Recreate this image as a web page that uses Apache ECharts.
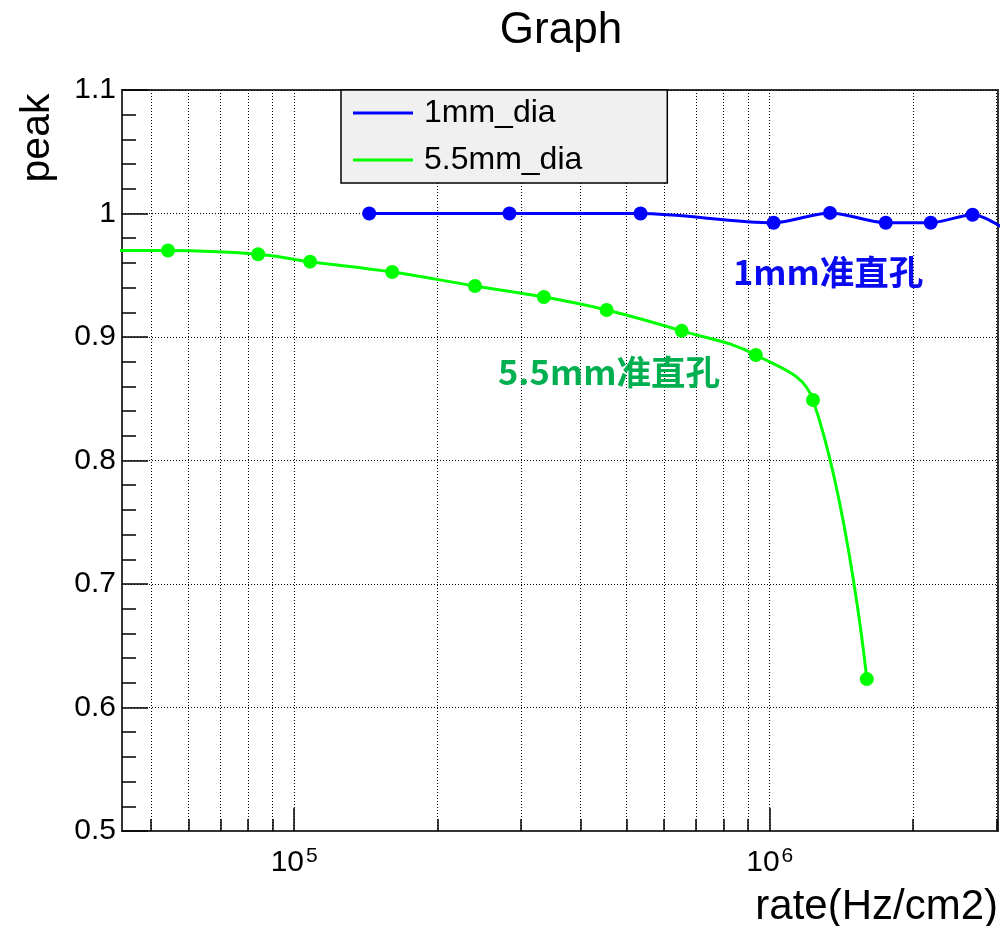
<!DOCTYPE html>
<html><head><meta charset="utf-8">
<script src="https://cdn.jsdelivr.net/npm/echarts@6/dist/echarts.min.js"></script>
<style>html,body{margin:0;padding:0;background:#fff}#c{width:1001px;height:926px}</style>
</head><body><div id="c"></div>
<script>
// ---- data ----
const seriesNames = ['1mm_dia', '5.5mm_dia'];
const rate1mm = [143800, 283600, 535000, 1019000, 1339000, 1754000, 2180000, 2670000, 3300000];
const peak1mm = [1.000, 1.000, 1.000, 0.9925, 1.0005, 0.9925, 0.9925, 0.999, 0.981];
const rate55mm = [35000, 54300, 84000, 108000, 160800, 240000, 335000, 454000, 653000, 935000, 1233000, 1600000];
const peak55mm = [0.970, 0.970, 0.967, 0.961, 0.9526, 0.9413, 0.9324, 0.9219, 0.905, 0.8854, 0.849, 0.623];
const xGridTicks = [5e4, 6e4, 7e4, 8e4, 9e4, 1e5, 2e5, 3e5, 4e5, 5e5, 6e5, 7e5, 8e5, 9e5, 1e6, 2e6, 3e6];
const xMajorTicks = [1e5, 1e6];
const xRange = [43450, 3.02e6];
const yRange = [0.5, 1.1];
const yStep = 0.1;
const titleText = 'Graph';
const xTitle = 'rate(Hz/cm2)';
const yTitle = 'peak';
const notes = [
  { text: '1mm准直孔', x: 733, y: 272, color: '#0a0af0' },
  { text: '5.5mm准直孔', x: 498, y: 372, color: '#00b050' }
];

const FONT = 'Liberation Sans, Arial, Helvetica, sans-serif';
const chart = echarts.init(document.getElementById('c'), null, { renderer: 'canvas' });
const pair = (xs, ys) => xs.map((x, i) => [x, ys[i]]);

const option = {
  backgroundColor: '#fff',
  animation: false,
  grid: { left: 122, right: 3, top: 90, bottom: 95, show: true, borderColor: '#333', borderWidth: 2, backgroundColor: 'transparent' },
  xAxis: [
    {
      type: 'log', logBase: 10, min: xRange[0], max: xRange[1], position: 'bottom',
      axisLine: { show: true, lineStyle: { color: '#333', width: 2 } },
      axisTick: { show: true, inside: true, length: 12, customValues: xGridTicks, lineStyle: { color: '#000', width: 1.5 } },
      axisLabel: { show: false },
      splitLine: { show: true, lineStyle: { color: '#000', width: 1, type: [1, 2] } },
      minorTick: { show: false }, minorSplitLine: { show: false }
    },
    {
      type: 'log', logBase: 10, min: xRange[0], max: xRange[1], position: 'bottom',
      axisLine: { show: false },
      axisTick: { show: true, inside: true, length: 23, customValues: xMajorTicks, lineStyle: { color: '#000', width: 1.5 } },
      axisLabel: {
        show: true, customValues: xMajorTicks, margin: 15,
        formatter: v => '{b|10}{s|' + Math.round(Math.log10(v)) + '}',
        rich: {
          b: { fontFamily: FONT, fontSize: 30, color: '#000', lineHeight: 32, verticalAlign: 'bottom' },
          s: { fontFamily: FONT, fontSize: 21, color: '#000', lineHeight: 32, verticalAlign: 'top', padding: [0, 0, 0, 2] }
        }
      },
      splitLine: { show: false }
    }
  ],
  yAxis: {
    type: 'value', min: yRange[0], max: yRange[1], interval: yStep,
    axisLine: { show: true, lineStyle: { color: '#333', width: 2 } },
    axisTick: { show: true, inside: true, length: 26, lineStyle: { color: '#000', width: 1.5 } },
    minorTick: { show: true, splitNumber: 5, length: 14, lineStyle: { color: '#000', width: 1.5 } },
    axisLabel: { margin: 6, fontFamily: FONT, fontSize: 30, color: '#000',
      formatter: v => (Math.abs(v - 1) < 1e-9 ? '1' : v.toFixed(1)) },
    splitLine: { show: true, lineStyle: { color: '#000', width: 1, type: [1, 2] } }
  },
  legend: {
    left: 341, top: 90, orient: 'vertical',
    backgroundColor: '#f0f0f0', borderColor: '#000', borderWidth: 1.5, borderRadius: 0,
    padding: [6, 85, 6, 12], itemGap: 13, itemWidth: 60, itemHeight: 3,
    textStyle: { fontFamily: FONT, fontSize: 32, color: '#000', lineHeight: 34, padding: [0, 0, 0, 6] },
    data: [ { name: seriesNames[0], icon: 'rect' }, { name: seriesNames[1], icon: 'rect' } ]
  },
  series: [
    {
      name: seriesNames[0], type: 'line', xAxisIndex: 0, data: pair(rate1mm, peak1mm),
      smooth: 0.3, clip: true, symbol: 'circle', symbolSize: 14,
      lineStyle: { color: '#0000ff', width: 3 }, itemStyle: { color: '#0000ff' }, z: 5
    },
    {
      name: seriesNames[1], type: 'line', xAxisIndex: 0, data: pair(rate55mm, peak55mm),
      smooth: 0.4, clip: true, symbol: 'circle', symbolSize: 14,
      lineStyle: { color: '#00ff00', width: 3 }, itemStyle: { color: '#00ff00' }, z: 5
    }
  ],
  graphic: [
    { type: 'text', x: 561, y: 31,
      style: { text: titleText, font: '44px ' + FONT, fill: '#000', align: 'center', verticalAlign: 'middle' } },
    { type: 'text', x: 38, y: 138, rotation: Math.PI / 2,
      style: { text: yTitle, font: '41px ' + FONT, fill: '#000', align: 'center', verticalAlign: 'middle' } },
    { type: 'text', x: 998, y: 907,
      style: { text: xTitle, font: '42px ' + FONT, fill: '#000', align: 'right', verticalAlign: 'middle' } }
  ].concat(notes.map(n => ({
    type: 'text', x: n.x, y: n.y, z: 10,
    style: { text: n.text, font: 'bold 34.5px "Noto Sans CJK SC", sans-serif', fill: n.color, align: 'left', verticalAlign: 'middle' }
  })))
};
chart.setOption(option);
</script>
</body></html>
